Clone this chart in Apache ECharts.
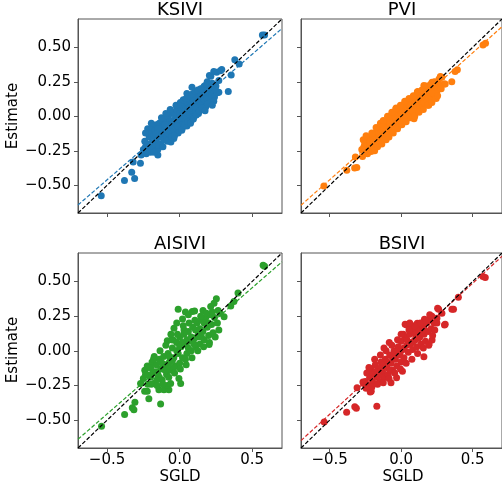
<!DOCTYPE html>
<html>
<head>
<meta charset="utf-8">
<script src="https://cdn.jsdelivr.net/npm/echarts@6/dist/echarts.min.js"></script>
<style>
  html, body { margin: 0; padding: 0; background: #fff; }
  #chart { width: 502px; height: 493px; }
</style>
</head>
<body>
<div id="chart"></div>
<script>
// Panel names, colours and axis ticks
const methodNames = ['KSIVI', 'PVI', 'AISIVI', 'BSIVI'];
const methodColors = ['#1f77b4', '#ff7f0e', '#2ca02c', '#d62728'];
const xTicks = [-0.5, 0, 0.5];
const yTicks = [-0.5, -0.25, 0, 0.25, 0.5];
const axisRange = [-0.70, 0.705];

// Least-squares fit of estimate against SGLD, per method
const fitSlope = [0.91, 0.92, 0.91, 0.945];
const fitIntercept = [-0.005, 0.0, 0.0, 0.015];

// [SGLD, estimate] pairs per method
const ksivi = [
  [-0.54,-0.575],[-0.38,-0.465],[-0.33,-0.405],[-0.31,-0.45],[-0.32,-0.33],[-0.27,-0.34],[-0.265,-0.28],[-0.23,-0.27],[-0.15,-0.28],[-0.235,-0.22],[-0.2,-0.215],[-0.19,-0.11],[-0.06,-0.185],[-0.22,-0.09],
  [0.57,0.59],[0.585,0.59],[0.38,0.41],[0.41,0.38],[0.29,0.34],[0.255,0.32],[0.215,0.29],[0.355,0.30],[0.27,0.175],[0.17,0.22],[0.19,0.25],[0.155,0.19],[0.05,0.165],[0.1,0.165],[0.2,0.115],[0.335,0.18],[0.27,0.26],[0.165,0.21],[0.205,0.295],[0.235,0.325],[0.28,0.33],[0.085,0.21],[0.13,0.036],
  [-0.25,-0.24],[-0.24,-0.18],[-0.23,-0.25],[-0.22,-0.2],[-0.21,-0.15],[-0.2,-0.26],[-0.2,-0.12],[-0.19,-0.19],[-0.19,-0.08],[-0.18,-0.23],[-0.18,-0.14],[-0.17,-0.1],[-0.17,-0.2],[-0.16,-0.17],[-0.16,-0.06],[-0.15,-0.12],[-0.15,-0.24],[-0.14,-0.15],[-0.14,-0.05],
  [-0.13,-0.09],[-0.13,-0.2],[-0.12,-0.13],[-0.12,-0.03],[-0.11,-0.17],[-0.11,-0.07],[-0.1,-0.11],[-0.1,-0.01],[-0.09,-0.15],[-0.09,-0.05],[-0.08,-0.09],[-0.08,0.0],[-0.07,-0.13],[-0.07,-0.04],[-0.06,-0.07],[-0.06,0.02],[-0.05,-0.11],[-0.05,-0.03],[-0.04,-0.16],[-0.04,0.03],
  [-0.03,-0.06],[-0.03,0.01],[-0.02,-0.09],[-0.02,0.05],[-0.01,-0.02],[-0.01,-0.12],[0.0,0.02],[0.0,-0.05],[0.01,0.07],[0.01,-0.01],[0.02,-0.08],[0.02,0.04],[0.03,0.0],[0.03,0.09],[0.04,-0.04],[0.04,0.05],[0.05,0.02],[0.05,-0.07],[0.05,0.1],
  [0.06,0.06],[0.06,-0.01],[0.07,0.03],[0.07,0.12],[0.08,0.08],[0.08,-0.03],[0.09,0.04],[0.09,0.13],[0.1,0.07],[0.1,0.0],[0.11,0.1],[0.11,0.04],[0.12,0.15],[0.12,0.07],[0.13,0.02],[0.13,0.11],[0.14,0.08],[0.14,0.17],[0.15,0.12],[0.15,0.05],
  [0.16,0.14],[0.16,0.09],[0.17,0.18],[0.17,0.12],[0.18,0.07],[0.18,0.16],[0.19,0.2],[0.19,0.13],[0.2,0.17],[0.21,0.1],[0.21,0.22],[0.22,0.15],[0.23,0.19],[0.24,0.14],[0.25,0.22],[0.26,0.17],
  [-0.12,-0.08],[-0.08,-0.12],[-0.02,-0.03],[0.03,-0.02],[0.07,0.06],[0.11,0.07],[-0.15,-0.09],[-0.1,-0.06],[-0.05,-0.06],[0.0,-0.01],
  [-0.235,-0.12],[-0.215,-0.255],[-0.195,-0.05],[-0.175,-0.26],[-0.165,-0.13],[-0.145,-0.21],[-0.125,-0.01],[-0.115,-0.22],[-0.095,0.02],[-0.085,-0.18],[-0.065,0.05],[-0.055,-0.15],[-0.035,-0.14],[-0.025,0.08],[-0.015,-0.07],[0.005,0.1],[0.015,-0.1],[0.025,0.12],[0.035,-0.06],[0.045,0.13],[0.055,-0.04],[0.065,0.15],[0.075,-0.05],[0.085,0.16],[0.095,-0.02],[0.105,0.18],[0.115,0.01],[0.125,0.19],[0.135,0.04],[0.145,0.2],[0.155,0.06],[0.175,0.04],[0.185,0.23],[0.195,0.09],[0.225,0.24],[0.235,0.11],[0.245,0.2],[0.225,0.08]
];

const pvi = [
  [-0.54,-0.505],[-0.38,-0.39],[-0.325,-0.375],[-0.31,-0.37],[-0.32,-0.295],[-0.27,-0.29],[-0.255,-0.2],[-0.2,-0.235],[-0.21,-0.255],
  [0.572,0.516],[0.59,0.53],[0.393,0.338],[0.377,0.324],[0.354,0.25],[0.301,0.235],[0.274,0.288],[0.25,0.2],[0.193,0.08],[0.216,0.247],[0.228,0.247],[0.159,0.223],[0.113,0.175],[0.205,0.115],[0.09,-0.017],[-0.037,0.055],[0.078,-0.005],[0.285,0.283],[0.308,0.235],
  [-0.26,-0.22],[-0.25,-0.19],[-0.24,-0.24],[-0.23,-0.17],[-0.22,-0.21],[-0.21,-0.15],[-0.2,-0.19],[-0.19,-0.22],[-0.19,-0.13],[-0.18,-0.17],[-0.17,-0.2],[-0.17,-0.11],[-0.16,-0.15],[-0.15,-0.18],[-0.15,-0.09],[-0.14,-0.13],[-0.13,-0.16],[-0.13,-0.07],[-0.12,-0.11],[-0.11,-0.14],[-0.11,-0.05],[-0.1,-0.09],[-0.09,-0.12],[-0.09,-0.03],[-0.08,-0.07],[-0.07,-0.1],[-0.07,-0.01],[-0.06,-0.05],[-0.05,-0.08],[-0.05,0.01],[-0.04,-0.03],[-0.03,-0.06],[-0.03,0.03],[-0.02,-0.01],[-0.01,-0.04],[-0.01,0.05],
  [0.0,0.01],[0.01,-0.03],[0.01,0.06],[0.02,0.02],[0.03,-0.01],[0.03,0.08],[0.04,0.04],[0.05,0.0],[0.05,0.09],[0.06,0.05],[0.07,0.02],[0.07,0.11],[0.08,0.07],[0.09,0.03],[0.09,0.12],[0.1,0.08],[0.11,0.05],[0.11,0.14],[0.12,0.1],[0.13,0.07],[0.13,0.15],[0.14,0.11],[0.15,0.08],[0.15,0.17],[0.16,0.13],[0.17,0.1],[0.17,0.19],[0.18,0.15],[0.19,0.12],[0.19,0.21],[0.2,0.17],[0.21,0.14],[0.22,0.2],[0.23,0.16],[0.24,0.22],[0.25,0.18],[0.26,0.24],[0.27,0.21],
  [-0.16,-0.12],[-0.12,-0.08],[-0.08,-0.04],[-0.04,0.0],[0.0,0.04],[0.04,0.01],[0.08,0.04],[0.12,0.13],[0.16,0.1],[-0.2,-0.16],[-0.1,-0.13],[0.02,-0.04],[0.06,0.08],[0.1,0.11],[0.14,0.14],[0.18,0.18],[0.22,0.17],
  [-0.275,-0.24],[-0.265,-0.17],[-0.245,-0.14],[-0.235,-0.27],[-0.215,-0.18],[-0.205,-0.12],[-0.185,-0.25],[-0.175,-0.08],[-0.165,-0.22],[-0.145,-0.05],[-0.135,-0.2],[-0.125,-0.03],[-0.105,-0.17],[-0.095,0.0],[-0.085,-0.15],[-0.065,0.03],[-0.055,-0.12],[-0.035,0.06],[-0.025,-0.09],[-0.005,0.08],[0.005,-0.06],[0.025,0.11],[0.035,-0.04],[0.055,0.13],[0.065,-0.01],[0.085,0.15],[0.095,0.0],[0.115,0.18],[0.125,0.03],[0.145,0.19],[0.155,0.05],[0.175,0.22],[0.185,0.08],[0.205,0.23],[0.215,0.1],[0.235,0.25],[0.245,0.13],[0.265,0.27],[0.28,0.2],[0.255,0.15]
];

const aisivi = [
  [-0.538,-0.543],[-0.379,-0.459],[-0.326,-0.41],[-0.315,-0.425],[-0.308,-0.37],[-0.212,-0.345],[-0.131,-0.383],[-0.241,-0.292],[-0.223,-0.292],[-0.143,-0.28],[-0.108,-0.28],[-0.074,-0.28],[-0.085,-0.249],[0.007,-0.236],[-0.062,-0.236],[-0.269,-0.236],[-0.223,-0.109],[-0.228,-0.171],[-0.188,-0.164],[-0.154,-0.207],[-0.005,-0.2],
  [0.575,0.616],[0.585,0.61],[0.402,0.416],[0.374,0.355],[0.352,0.324],[0.306,0.245],[0.253,0.375],[0.237,0.343],[0.214,0.319],[0.203,0.045],[0.172,0.2],[0.161,0.29],[0.087,0.283],[0.103,0.288],[-0.01,0.3],[0.04,0.28],[-0.039,0.162],[-0.085,0.072],[-0.044,0.078],[0.03,0.15],
  [-0.25,-0.2],[-0.24,-0.14],[-0.22,-0.24],[-0.21,-0.12],[-0.2,-0.19],[-0.19,-0.08],[-0.18,-0.15],[-0.17,-0.23],[-0.16,-0.1],[-0.15,-0.17],[-0.14,-0.06],[-0.13,-0.13],[-0.12,-0.21],[-0.11,-0.04],[-0.1,-0.1],[-0.09,-0.17],[-0.08,-0.02],[-0.07,-0.08],[-0.06,-0.14],[-0.05,0.02],[-0.04,-0.05],[-0.03,-0.11],[-0.02,0.06],[-0.01,-0.02],
  [0.0,-0.09],[0.0,0.1],[0.01,0.03],[0.02,-0.05],[0.03,0.12],[0.04,0.05],[0.05,-0.02],[0.06,0.14],[0.07,0.07],[0.08,0.0],[0.09,0.17],[0.1,0.09],[0.11,0.03],[0.12,0.2],[0.13,0.12],[0.14,0.05],[0.15,0.22],[0.16,0.14],[0.17,0.08],[0.18,0.24],[0.19,0.17],[0.2,0.11],[0.21,0.26],[0.22,0.19],[0.23,0.13],[0.24,0.24],[0.26,0.2],[0.28,0.27],
  [-0.18,-0.06],[-0.14,-0.19],[-0.1,-0.14],[-0.07,-0.04],[-0.04,-0.12],[-0.02,0.0],[0.02,0.06],[0.05,0.08],[0.08,0.1],[0.11,0.15],[0.14,0.16],[0.17,0.2],[0.06,0.02],[-0.12,-0.09],[-0.08,-0.1],[0.0,0.03],[0.04,-0.06],[0.1,0.05],[0.15,0.1],[-0.2,-0.12],[-0.16,-0.15],[-0.05,-0.07],[0.2,0.2],[0.12,0.1],
  [-0.235,-0.17],[-0.195,-0.24],[-0.175,-0.04],[-0.155,-0.25],[-0.135,0.0],[-0.115,-0.24],[-0.095,0.04],[-0.075,-0.19],[-0.055,0.08],[-0.035,-0.16],[-0.015,0.12],[0.005,-0.13],[0.025,0.18],[0.045,-0.1],[0.065,0.2],[0.085,-0.05],[0.105,0.22],[0.125,0.0],[0.145,0.25],[0.165,0.03],[0.185,0.27],[0.205,0.06],[0.225,0.28],[0.245,0.1],[0.265,0.29],[0.27,0.15],[-0.02,0.2],[0.02,0.23],[0.06,0.26],[-0.06,0.12]
];

const bsivi = [
  [-0.538,-0.513],[-0.381,-0.442],[-0.324,-0.403],[-0.313,-0.413],[-0.17,-0.4],[-0.308,-0.265],[-0.209,-0.292],[-0.216,-0.297],[-0.267,-0.224],[-0.071,-0.229],[-0.032,-0.193],[0.009,-0.147],[0.159,-0.043],[-0.221,-0.128],[-0.262,-0.236],
  [0.572,0.536],[0.588,0.528],[0.4,0.387],[0.366,0.3],[0.355,0.3],[0.303,0.186],[0.25,0.235],[0.262,0.3],[0.285,0.271],[0.255,0.307],[0.308,0.191],[0.216,0.078],[0.193,0.041],[0.163,0.228],[0.113,0.199],[0.039,0.186],[0.071,0.181],[0.124,0.162],[-0.083,0.061],[0.028,0.191],
  [-0.25,-0.22],[-0.24,-0.16],[-0.23,-0.25],[-0.22,-0.19],[-0.21,-0.13],[-0.2,-0.22],[-0.19,-0.16],[-0.18,-0.1],[-0.17,-0.19],[-0.16,-0.13],[-0.15,-0.22],[-0.14,-0.08],[-0.13,-0.15],[-0.12,-0.19],[-0.11,-0.06],[-0.1,-0.12],[-0.09,-0.17],[-0.08,-0.03],[-0.07,-0.09],[-0.06,-0.14],[-0.05,0.0],[-0.04,-0.06],[-0.03,-0.11],[-0.02,0.03],[-0.01,-0.03],
  [0.0,-0.08],[0.0,0.07],[0.01,0.01],[0.02,-0.05],[0.03,0.1],[0.04,0.04],[0.05,-0.01],[0.06,0.12],[0.07,0.06],[0.08,0.01],[0.09,0.14],[0.1,0.08],[0.11,0.03],[0.12,0.16],[0.13,0.1],[0.14,0.05],[0.15,0.18],[0.16,0.12],[0.17,0.07],[0.18,0.2],[0.19,0.14],[0.2,0.22],[0.21,0.16],[0.22,0.11],[0.23,0.2],
  [-0.18,-0.15],[-0.14,-0.12],[-0.1,-0.08],[-0.06,-0.05],[-0.02,-0.02],[0.02,0.02],[0.06,0.05],[0.1,0.12],[0.14,0.13],[-0.2,-0.17],[-0.12,-0.1],[-0.04,-0.01],[0.04,0.08],[0.08,0.06],[0.12,0.09],[0.16,0.16],[-0.16,-0.18],[-0.08,-0.14],[0.0,0.0],
  [-0.245,-0.27],[-0.225,-0.12],[-0.205,-0.26],[-0.185,-0.06],[-0.165,-0.24],[-0.145,-0.03],[-0.125,-0.23],[-0.105,0.0],[-0.085,-0.2],[-0.065,0.04],[-0.045,-0.16],[-0.025,0.08],[-0.005,-0.13],[0.015,0.12],[0.035,-0.09],[0.055,0.15],[0.075,-0.06],[0.095,0.18],[0.115,-0.02],[0.135,0.2],[0.155,0.02],[0.175,0.22],[0.195,0.05],[0.215,0.25],[0.235,0.15],[0.25,0.2],[0.2,0.26],[0.0,0.12],[0.06,0.2],[-0.12,0.02]
];

const methodData = [ksivi, pvi, aisivi, bsivi];

const FONT = 'DejaVu Sans';
const INK = '#000';
const FRAME = '#555';

// 2 x 2 panel placement
const grids = [
  { left: 78,  top: 19,  width: 204, height: 194 },
  { left: 301, top: 19,  width: 204, height: 194 },
  { left: 78,  top: 253, width: 204, height: 195 },
  { left: 301, top: 253, width: 204, height: 195 }
];

const minus = s => s.replace('-', '\u2212');

const option = {
  animation: false,
  backgroundColor: '#fff',
  grid: grids.map(g => Object.assign({ show: true, borderColor: FRAME, borderWidth: 1, backgroundColor: 'transparent' }, g)),
  xAxis: grids.map((g, i) => ({
    type: 'value',
    gridIndex: i,
    min: axisRange[0], max: axisRange[1],
    axisLine: { show: true, onZero: false, lineStyle: { color: FRAME, width: 1 } },
    splitLine: { show: false },
    axisTick: { show: true, inside: false, length: 4, customValues: xTicks, lineStyle: { color: FRAME, width: 1 } },
    axisLabel: {
      show: i >= 2, customValues: xTicks, margin: 5,
      fontFamily: FONT, fontSize: 15, color: INK,
      formatter: v => minus(v.toFixed(1))
    }
  })),
  yAxis: grids.map((g, i) => ({
    type: 'value',
    gridIndex: i,
    min: axisRange[0], max: axisRange[1],
    axisLine: { show: true, onZero: false, lineStyle: { color: FRAME, width: 1 } },
    splitLine: { show: false },
    axisTick: { show: true, inside: false, length: 4, customValues: yTicks, lineStyle: { color: FRAME, width: 1 } },
    axisLabel: {
      show: i % 2 === 0, customValues: yTicks, margin: 7,
      fontFamily: FONT, fontSize: 15, color: INK,
      formatter: v => minus(v.toFixed(2))
    }
  })),
  series: [],
  graphic: []
};

methodNames.forEach((name, i) => {
  option.series.push({
    type: 'scatter',
    xAxisIndex: i, yAxisIndex: i,
    data: methodData[i],
    symbolSize: 7,
    itemStyle: { color: methodColors[i], opacity: 1 },
    z: 2
  });
  // fitted line across the panel
  option.series.push({
    type: 'line',
    xAxisIndex: i, yAxisIndex: i,
    data: axisRange.map(x => [x, fitSlope[i] * x + fitIntercept[i]]),
    symbol: 'none',
    lineStyle: { color: methodColors[i], width: 1.2, type: [4, 2] },
    z: 3
  });
  // identity line
  option.series.push({
    type: 'line',
    xAxisIndex: i, yAxisIndex: i,
    data: axisRange.map(x => [x, x]),
    symbol: 'none',
    lineStyle: { color: '#000', width: 1.2, type: [4, 2] },
    z: 4
  });
  const g = grids[i];
  option.graphic.push({
    type: 'text',
    x: g.left + g.width / 2 - (i % 2 === 1 ? 1 : 0),
    y: g.top - 9,
    style: { text: name, fontFamily: FONT, fontSize: 18, fill: INK, align: 'center', verticalAlign: 'middle' }
  });
});

// axis titles
[116, 350].forEach(cy => {
  option.graphic.push({
    type: 'text', x: 13, y: cy, rotation: Math.PI / 2,
    style: { text: 'Estimate', fontFamily: FONT, fontSize: 15, fill: INK, align: 'center', verticalAlign: 'middle' }
  });
});
[180, 403].forEach(cx => {
  option.graphic.push({
    type: 'text', x: cx, y: 477,
    style: { text: 'SGLD', fontFamily: FONT, fontSize: 15, fill: INK, align: 'center', verticalAlign: 'middle' }
  });
});

const chart = echarts.init(document.getElementById('chart'), null, { renderer: 'canvas' });
chart.setOption(option);
</script>
</body>
</html>
